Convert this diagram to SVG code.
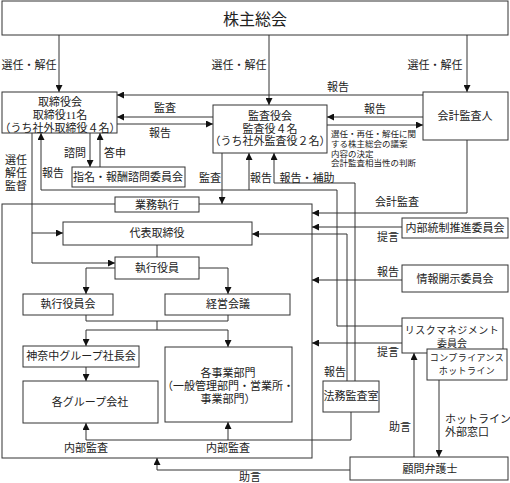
<svg xmlns="http://www.w3.org/2000/svg" width="510" height="483" viewBox="0 0 510 483">
<style>
text{font-family:"Liberation Serif","Noto Sans CJK JP",serif;fill:#222;dominant-baseline:central}
.c{text-anchor:middle}
.s{font-size:11px}
.n{font-size:8.5px}
.box{fill:#fff;stroke:#333;stroke-width:1}
.ln{fill:none;stroke:#333;stroke-width:1}
.ar{fill:none;stroke:#333;stroke-width:1;marker-end:url(#ah)}
</style>
<defs>
<marker id="ah" viewBox="0 0 10 10" refX="10" refY="5" markerWidth="7" markerHeight="7" markerUnits="userSpaceOnUse" orient="auto">
<path d="M0,0 L10,5 L0,10 z" fill="#111"/>
</marker>
</defs>
<rect x="0" y="0" width="510" height="483" fill="#fff"/>

<g id="main-area">
<rect class="box" x="2" y="204" width="310" height="254" fill="none"/>
</g>

<g id="connectors">
<path class="ar" d="M59 35V92"/>
<path class="ar" d="M269 35V105"/>
<path class="ar" d="M467 35V92"/>
<path class="ar" d="M423 95H117"/>
<path class="ar" d="M213 117H117"/>
<path class="ar" d="M117 124H213"/>
<path class="ar" d="M423 117H327"/>
<path class="ar" d="M327 125H423"/>
<path class="ar" d="M32 133V263H115"/>
<path class="ar" d="M32 233H63"/>
<path class="ar" d="M90 133V167"/>
<path class="ar" d="M100 167V133"/>
<path class="ar" d="M402 326H337V190H41V133"/>
<path class="ar" d="M249 190V153"/>
<path class="ar" d="M222 153V204"/>
<path class="ar" d="M355 381V183H274V153"/>
<path class="ar" d="M347 381V234H252"/>
<path class="ar" d="M467 140V213H312"/>
<path class="ar" d="M402 227H312"/>
<path class="ar" d="M402 280H312"/>
<path class="ar" d="M402 343H312"/>
<path class="ar" d="M414 457V353"/>
<path class="ar" d="M439 380V457"/>
<path class="ar" d="M350 470H157V458"/>
<path class="ar" d="M351 412V440H86V423"/>
<path class="ar" d="M228 440V422"/>
<path class="ln" d="M157 245V257"/>
<path class="ar" d="M115 268H86V294"/>
<path class="ar" d="M199 268H228V294"/>
<path class="ln" d="M86 315V321H228V315M157 321V330M86 330H228"/>
<path class="ar" d="M86 330V346"/>
<path class="ar" d="M228 330V347"/>
<path class="ar" d="M86 367V381"/>
</g>

<g id="labels">
<text class="s c" x="29" y="65">選任・解任</text>
<text class="s c" x="239" y="65">選任・解任</text>
<text class="s c" x="435" y="65">選任・解任</text>
<text class="s c" x="338" y="87">報告</text>
<text class="s c" x="165" y="108">監査</text>
<text class="s c" x="160" y="133">報告</text>
<text class="s c" x="375" y="109">報告</text>
<text class="n" x="331" y="134">選任・再任・解任に関</text>
<text class="n" x="331" y="144">する株主総会の議案</text>
<text class="n" x="331" y="154">内容の決定</text>
<text class="n" x="331" y="163">会計監査相当性の判断</text>
<text class="s c" x="16" y="160">選任</text>
<text class="s c" x="16" y="173">解任</text>
<text class="s c" x="16" y="186">監督</text>
<text class="s c" x="75" y="153">諮問</text>
<text class="s c" x="115" y="153">答申</text>
<text class="s c" x="53" y="173">報告</text>
<text class="s c" x="210" y="178">監査</text>
<text class="s c" x="261" y="178">報告</text>
<text class="s c" x="307" y="178">報告・補助</text>
<text class="s c" x="397" y="202">会計監査</text>
<text class="s c" x="388" y="237">提言</text>
<text class="s c" x="388" y="272">報告</text>
<text class="s c" x="388" y="352">提言</text>
<text class="s c" x="335" y="372">報告</text>
<text class="s c" x="400" y="427">助言</text>
<text class="s" x="445" y="419">ホットライン</text>
<text class="s" x="445" y="432">外部窓口</text>
<text class="s c" x="250" y="477">助言</text>
<text class="s c" x="86" y="448">内部監査</text>
<text class="s c" x="228" y="448">内部監査</text>
</g>

<g id="shareholders">
<rect class="box" x="2" y="1" width="506" height="34"/>
<text class="c" x="255" y="19" font-size="16">株主総会</text>
</g>
<g id="board">
<rect class="box" x="2" y="92" width="115" height="41"/>
<text class="s c" x="60" y="102">取締役会</text>
<text class="s c" x="60" y="115">取締役11名</text>
<text class="s c" x="60" y="128">（うち社外取締役４名）</text>
</g>
<g id="audit-board">
<rect class="box" x="213" y="105" width="114" height="48"/>
<text class="s c" x="270" y="116">監査役会</text>
<text class="s c" x="270" y="129">監査役４名</text>
<text class="s c" x="270" y="141">（うち社外監査役２名）</text>
</g>
<g id="accounting-auditor">
<rect class="box" x="423" y="92" width="85" height="48"/>
<text class="s c" x="465" y="116">会計監査人</text>
</g>
<g id="nomination-committee">
<rect class="box" x="72" y="167" width="113" height="20"/>
<text class="s c" x="128" y="177">指名・報酬諮問委員会</text>
</g>
<g id="business-execution">
<rect class="box" x="115" y="197" width="84" height="15"/>
<text class="s c" x="157" y="205">業務執行</text>
</g>
<g id="representative-director">
<rect class="box" x="63" y="222" width="189" height="23"/>
<text class="s c" x="157" y="233">代表取締役</text>
</g>
<g id="executive-officers">
<rect class="box" x="115" y="257" width="84" height="22"/>
<text class="s c" x="157" y="268">執行役員</text>
</g>
<g id="executive-officers-meeting">
<rect class="box" x="23" y="294" width="90" height="21"/>
<text class="s c" x="68" y="304">執行役員会</text>
</g>
<g id="management-meeting">
<rect class="box" x="165" y="294" width="125" height="21"/>
<text class="s c" x="228" y="304">経営会議</text>
</g>
<g id="group-presidents">
<rect class="box" x="23" y="346" width="116" height="21"/>
<text class="s c" x="81" y="356">神奈中グループ社長会</text>
</g>
<g id="group-companies">
<rect class="box" x="23" y="381" width="135" height="42"/>
<text class="s c" x="90" y="402">各グループ会社</text>
</g>
<g id="business-divisions">
<rect class="box" x="165" y="347" width="127" height="75"/>
<text class="s c" x="228" y="373">各事業部門</text>
<text class="s c" x="228" y="386">（一般管理部門・営業所・</text>
<text class="s c" x="228" y="399">事業部門）</text>
</g>
<g id="legal-audit">
<rect class="box" x="323" y="381" width="56" height="31"/>
<text class="s c" x="351" y="396">法務監査室</text>
</g>
<g id="internal-control">
<rect class="box" x="402" y="218" width="106" height="20"/>
<text class="s c" x="455" y="228">内部統制推進委員会</text>
</g>
<g id="disclosure">
<rect class="box" x="402" y="265" width="106" height="27"/>
<text class="s c" x="455" y="279">情報開示委員会</text>
</g>
<g id="risk-management">
<rect class="box" x="402" y="318" width="101" height="35"/>
<text class="c" x="452" y="330" font-size="10" letter-spacing="0.5">リスクマネジメント</text>
<text class="c" x="452" y="343" font-size="10">委員会</text>
</g>
<g id="compliance-hotline">
<rect class="box" x="427" y="349" width="80" height="31"/>
<text class="c" x="467" y="358" font-size="9" letter-spacing="0.4">コンプライアンス</text>
<text class="c" x="467" y="371" font-size="9" letter-spacing="0.4">ホットライン</text>
</g>
<g id="legal-advisor">
<rect class="box" x="350" y="457" width="158" height="23"/>
<text class="s c" x="430" y="469">顧問弁護士</text>
</g>
</svg>
